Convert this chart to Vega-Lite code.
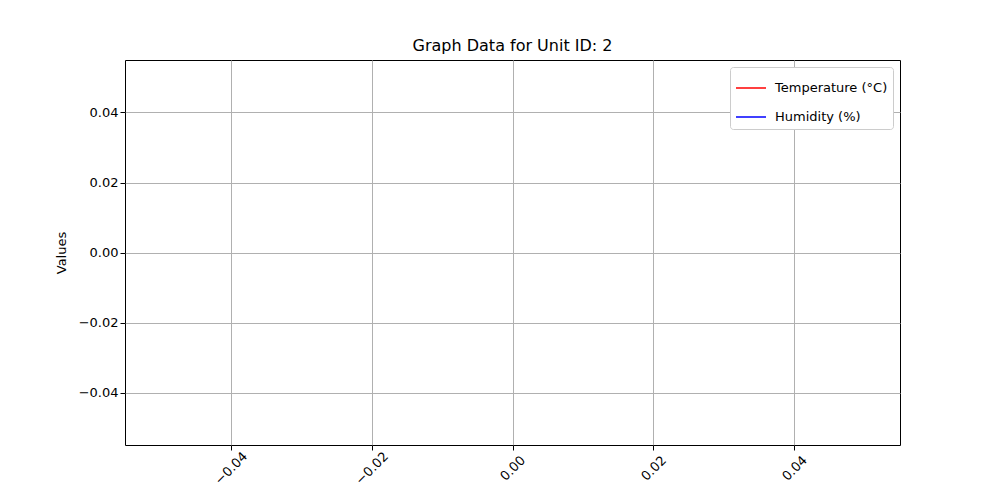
{
  "$schema": "https://vega.github.io/schema/vega-lite/v6.json",
  "width": 775,
  "height": 385,
  "autosize": {"type": "none"},
  "padding": {"left": 125, "top": 60, "right": 100, "bottom": 55},
  "background": "white",
  "config": {
    "font": "DejaVu Sans",
    "view": {"stroke": "black", "strokeWidth": 1},
    "axis": {"labelFontSize": 13, "titleFontSize": 13, "labelColor": "black", "titleColor": "black", "gridColor": "#b0b0b0", "gridWidth": 1, "tickColor": "black", "tickSize": 5, "domain": false, "titleFontWeight": "normal"}
  },
  "title": {"text": "Graph Data for Unit ID: 2", "fontSize": 16, "fontWeight": "normal", "offset": 6, "color": "black"},
  "data": {"values": [
    {"series": "Temperature (°C)", "x": null, "y": null},
    {"series": "Humidity (%)", "x": null, "y": null}
  ]},
  "mark": {"type": "line"},
  "encoding": {
    "x": {"field": "x", "type": "quantitative", "title": null,
      "scale": {"domain": [-0.055, 0.055], "nice": false, "zero": false},
      "axis": {"values": [-0.04, -0.02, 0, 0.02, 0.04], "format": ".2f", "labelExpr": "replace(datum.label, '-', '−')", "labelAngle": -45, "labelAlign": "center", "labelBaseline": "middle", "labelPadding": 18}},
    "y": {"field": "y", "type": "quantitative", "title": "Values",
      "scale": {"domain": [-0.055, 0.055], "nice": false, "zero": false},
      "axis": {"values": [-0.04, -0.02, 0, 0.02, 0.04], "format": ".2f", "labelExpr": "replace(datum.label, '-', '−')", "titlePadding": 10}},
    "color": {"field": "series", "type": "nominal", "title": null,
      "scale": {"domain": ["Temperature (°C)", "Humidity (%)"], "range": ["red", "blue"]},
      "legend": {"orient": "top-right", "offset": 7, "symbolType": "stroke", "symbolSize": 900, "symbolStrokeWidth": 1.5, "labelFontSize": 13, "labelColor": "black", "strokeColor": "#cccccc", "fillColor": "white", "padding": 5, "cornerRadius": 3, "rowPadding": 6, "labelOffset": 8}}
  }
}
